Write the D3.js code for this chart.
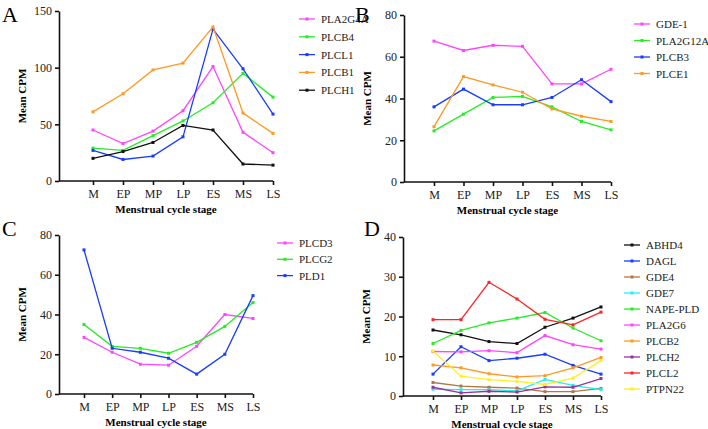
<!DOCTYPE html><html><head><script src="https://cdn.jsdelivr.net/npm/d3@7"></script>
<style>body{margin:0;background:#fff}text{font-family:"Liberation Serif","Times New Roman",serif}</style></head><body>
<svg id="c" width="708" height="429"></svg>
<script>
const stages=["M","EP","MP","LP","ES","MS","LS"];
const namesA=["PLA2G4A","PLCB4","PLCL1","PLCB1","PLCH1"];
const valsA=[[45,33,44,62,101,43,25],[29,27,40,53,69,95,74],[27,19,22,39,134,99,59],[61,77,98,104,136,60,42],[20,26,34,49,45,15,14]];
const colsA=["#ff44ff","#22ee22","#1a3cff","#ff9922","#111"];
const namesB=["GDE-1","PLA2G12A","PLCB3","PLCE1"];
const valsB=[[67.5,63,65.5,65,47,47,54],[24.5,32.5,40.5,41,36,29,25],[36,44.5,37,37,40.5,49,38.5],[26.5,50.5,46.5,43,35,31.5,29]];
const colsB=["#ff44ff","#22ee22","#1a3cff","#ff9922"];
const namesC=["PLCD3","PLCG2","PLD1"];
const valsC=[[28.5,21,15,14.5,24,40,38],[35,24,23,20.5,26,34,46],[72.5,23,21,18,10,20,49.5]];
const colsC=["#ff44ff","#22ee22","#1a3cff"];
const namesD=["ABHD4","DAGL","GDE4","GDE7","NAPE-PLD","PLA2G6","PLCB2","PLCH2","PLCL2","PTPN22"];
const valsD=[[16.6,15.4,13.7,13.2,17.3,19.6,22.4],[5.5,12.4,8.9,9.5,10.5,7.7,5.5],[3.4,2.5,2.2,2,1.1,1.1,1.9],[1.7,1.6,1.6,1.3,4.2,2.7,1.6],[13.2,16.5,18.4,19.6,21,17.1,13.9],[11.2,11.1,11.4,10.9,15.2,12.9,11.8],[7.8,7.1,5.6,4.8,5.1,7.1,9.7],[2.2,0.8,1.2,1,2.3,2.2,4.4],[19.2,19.2,28.6,24.4,19.3,17.9,21.1],[11.3,5,4.1,3.7,2.9,4.5,8.9]];
const colsD=["#111","#1a3cff","#b07848","#22eeee","#22ee22","#ff44ff","#ff9922","#993399","#ff2222","#ffee22"];
const svg=d3.select("#c");
function panel(o){
  const g=svg.append("g");
  const x=d3.scalePoint().domain(stages).range([o.x0,o.x1]);
  const y=d3.scaleLinear().domain([0,o.max]).range([o.yb,o.yt]);
  const ax=g.append("g").attr("transform",`translate(${o.ax},0)`).call(d3.axisLeft(y).tickValues(o.ticks).tickSize(4).tickSizeOuter(0));
  const bx=g.append("g").attr("transform",`translate(0,${o.yb})`).call(d3.axisBottom(x).tickSize(4));
  bx.select(".domain").attr("d",`M${o.ax},0H${o.x1}`);
  [ax,bx].forEach(a=>{a.selectAll("path,line").attr("stroke","#111").attr("stroke-width",1.6);a.selectAll("text").attr("font-size",12).attr("fill","#222").attr("font-family","Liberation Serif,serif");});
  bx.selectAll("text").attr("dy","0.8em");
  g.append("text").attr("x",(o.ax+o.x1)/2).attr("y",o.yb+32).attr("text-anchor","middle").attr("font-weight","bold").attr("font-size",11).text("Menstrual cycle stage");
  g.append("text").attr("transform",`translate(${o.ax-33},${(o.yt+o.yb)/2}) rotate(-90)`).attr("text-anchor","middle").attr("font-weight","bold").attr("font-size",11).text("Mean CPM");
  g.append("text").attr("x",o.lx).attr("y",o.ly).attr("font-size",22).text(o.letter);
  const line=d3.line().x((d,i)=>x(stages[i])).y(d=>y(d));
  o.vals.forEach((v,k)=>{
    g.append("path").attr("d",line(v)).attr("fill","none").attr("stroke",o.cols[k]).attr("stroke-width",1.3);
    g.selectAll(null).data(v).enter().append("rect").attr("x",(d,i)=>x(stages[i])-1.5).attr("y",d=>y(d)-1.5).attr("width",3).attr("height",3).attr("fill",o.cols[k]);
    const ly=o.legY+k*o.legStep;
    g.append("line").attr("x1",o.legX).attr("x2",o.legX+16).attr("y1",ly).attr("y2",ly).attr("stroke",o.cols[k]).attr("stroke-width",1.3);
    g.append("rect").attr("x",o.legX+6.5).attr("y",ly-1.5).attr("width",3).attr("height",3).attr("fill",o.cols[k]);
    g.append("text").attr("x",o.legX+22).attr("y",ly+4).attr("font-size",11).attr("fill","#222").text(o.names[k]);
  });
}
panel({letter:"A",lx:2,ly:22,ax:59,x0:93,x1:273,yt:11,yb:181,max:150,ticks:[0,50,100,150],vals:valsA,cols:colsA,names:namesA,legX:299,legY:19,legStep:17.8});
panel({letter:"B",lx:355,ly:22,ax:404,x0:434,x1:611,yt:15,yb:182,max:80,ticks:[0,20,40,60,80],vals:valsB,cols:colsB,names:namesB,legX:634,legY:24,legStep:16.5});
panel({letter:"C",lx:2,ly:236,ax:59,x0:84,x1:253,yt:235,yb:394,max:80,ticks:[0,20,40,60,80],vals:valsC,cols:colsC,names:namesC,legX:277,legY:243,legStep:16.3});
panel({letter:"D",lx:364,ly:236,ax:403,x0:433,x1:601,yt:237,yb:396,max:40,ticks:[0,10,20,30,40],vals:valsD,cols:colsD,names:namesD,legX:624,legY:245,legStep:16});
</script></body></html>
